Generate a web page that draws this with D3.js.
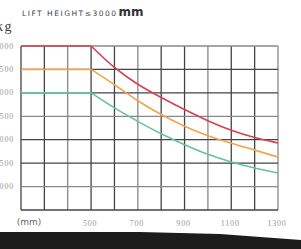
<!DOCTYPE html>
<meta charset="utf-8">
<style>
    html, body {
        margin: 0;
        padding: 0;
        background: #fff;
        overflow: hidden;
    }
    svg {
        display: block;
    }
    .tick-label {
        font: 8px "Liberation Serif", serif;
        fill: #999;
        letter-spacing: 0.8px;
    }
</style>
<svg id="chart" width="301" height="249"></svg>
<script src="https://d3js.org/d3.v7.min.js"></script>
<script>
    // load centre (mm) against rated capacity (kg)
    const loadCentres = [200, 300, 400, 500, 600, 700, 800, 900, 1000, 1100, 1200, 1300];
    const redSeries    = [4000, 4000, 4000, 4000, 3520, 3170, 2900, 2640, 2400, 2190, 2040, 1930];
    const orangeSeries = [3500, 3500, 3500, 3500, 3180, 2820, 2530, 2280, 2080, 1920, 1780, 1630];
    const greenSeries  = [3000, 3000, 3000, 3000, 2670, 2390, 2120, 1890, 1680, 1520, 1390, 1290];

    const xLabels = [500, 700, 900, 1100, 1300];
    const yLabels = [1000, 1500, 2000, 2500, 3000, 3500, 4000];
    const xGrid = loadCentres;
    const yGrid = [500, 1000, 1500, 2000, 2500, 3000, 3500, 4000];

    const svg = d3.select("#chart");

    let x = d3.scaleLinear().domain([200, 1300]).range([21, 278]);
    let y = d3.scaleLinear().domain([500, 4000]).range([210, 46]);

    // title
    let title = svg.append("text")
        .attr("x", 22)
        .attr("y", 16)
        .style("font-family", "'DejaVu Sans', sans-serif")
        .style("fill", "#444");
    title.append("tspan")
        .style("font-size", "7.5px")
        .style("letter-spacing", "1.5px")
        .text("LIFT HEIGHT≤3000");
    title.append("tspan")
        .attr("dx", 1)
        .style("font-size", "12px")
        .style("font-weight", "bold")
        .style("fill", "#333")
        .text("mm");

    // unit label, cut off at the left edge like the source image
    svg.append("text")
        .attr("x", 13)
        .attr("y", 31)
        .attr("text-anchor", "end")
        .style("font", "14px 'Liberation Serif', serif")
        .style("letter-spacing", "1.5px")
        .style("fill", "#444")
        .text("kg");

    // grid
    svg.append("g")
        .selectAll("line")
        .data(xGrid)
        .join("line")
        .attr("x1", d => x(d))
        .attr("x2", d => x(d))
        .attr("y1", y(4000))
        .attr("y2", y(500))
        .attr("stroke", (d, i) => i % 3 === 2 ? "#888" : "#444")
        .attr("stroke-width", 1.3);

    svg.append("g")
        .selectAll("line")
        .data(yGrid)
        .join("line")
        .attr("x1", x(200))
        .attr("x2", x(1300))
        .attr("y1", d => y(d))
        .attr("y2", d => y(d))
        .attr("stroke", (d, i) => i % 3 === 1 ? "#888" : "#444")
        .attr("stroke-width", 1.3);

    // tick labels
    svg.append("g")
        .selectAll("text")
        .data(yLabels)
        .join("text")
        .attr("class", "tick-label")
        .attr("x", 14)
        .attr("y", d => y(d) + 2.5)
        .attr("text-anchor", "end")
        .text(d => d);

    svg.append("g")
        .selectAll("text")
        .data(xLabels)
        .join("text")
        .attr("class", "tick-label")
        .attr("x", d => x(d) - 1)
        .attr("y", 226)
        .attr("text-anchor", "middle")
        .text(d => d);

    svg.append("text")
        .attr("x", 29)
        .attr("y", 225)
        .attr("text-anchor", "middle")
        .style("font", "9px 'DejaVu Sans', sans-serif")
        .style("fill", "#666")
        .text("(mm)");

    // curves: flat part up to the 500 mm load centre, smooth fall after it
    let flatLine = d3.line()
        .x(d => x(d[0]))
        .y(d => y(d[1]));
    let fallLine = d3.line()
        .x(d => x(d[0]))
        .y(d => y(d[1]))
        .curve(d3.curveBasis);

    const series = [
        {values: greenSeries, color: "#66c2a5"},
        {values: orangeSeries, color: "#f2a448"},
        {values: redSeries, color: "#d9404f"}
    ];

    let curves = svg.append("g")
        .selectAll("g")
        .data(series)
        .join("g")
        .attr("fill", "none")
        .attr("stroke", d => d.color)
        .attr("stroke-width", 1.6);

    curves.append("path")
        .attr("d", d => flatLine(loadCentres.map((c, i) => [c, d.values[i]]).filter(p => p[0] <= 500)));
    curves.append("path")
        .attr("d", d => fallLine(loadCentres.map((c, i) => [c, d.values[i]]).filter(p => p[0] >= 500)));

    // dark band at the bottom of the scan
    svg.append("path")
        .attr("d", "M0,232 L140,232 L220,234 L301,240 L301,249 L0,249 Z")
        .attr("fill", "#1c1c1c");
</script>
